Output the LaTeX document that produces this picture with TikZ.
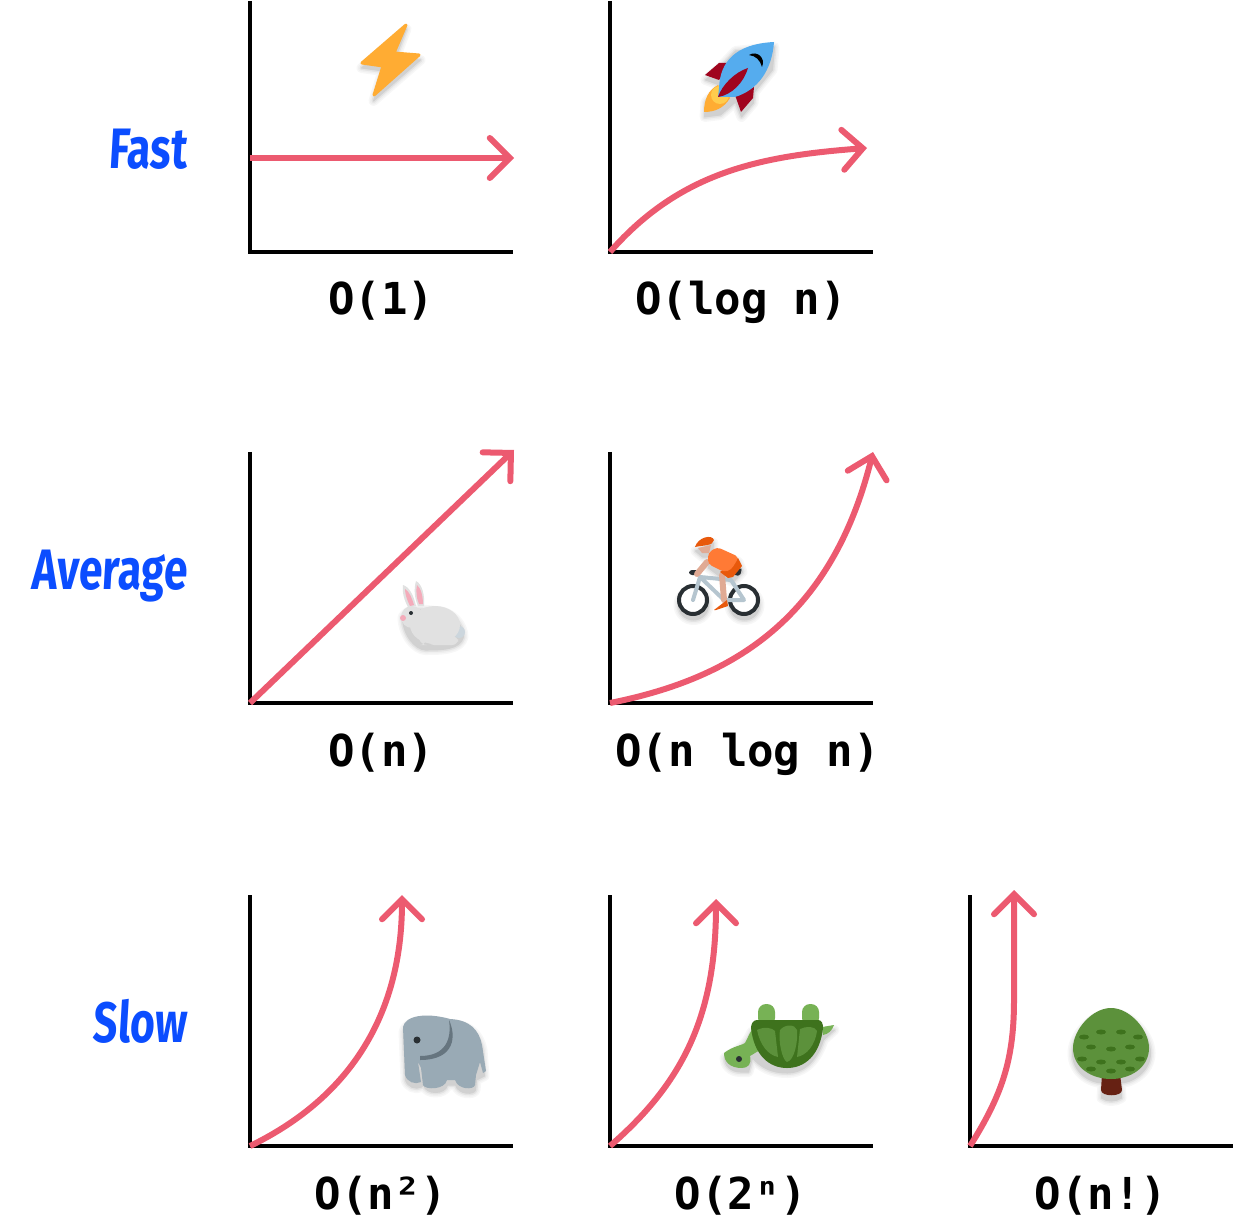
\documentclass[tikz,border=0pt]{standalone}
\usepackage{fontspec}
\usetikzlibrary{arrows.meta,positioning}
\newfontfamily\codefont{DejaVu Sans Mono}
\newfontfamily\handfont[FakeStretch=0.75,FakeSlant=0.06]{Fira Sans}
\definecolor{curvered}{HTML}{EC5A70}
\definecolor{speedblue}{HTML}{0B4DFF}
\definecolor{emoorange}{HTML}{FFAC33}
\definecolor{emoblue}{HTML}{55ACEE}
\definecolor{emored}{HTML}{A0041E}
\definecolor{emoyellow}{HTML}{FFCC4D}
\definecolor{emodark}{HTML}{292F33}
\definecolor{emogrey}{HTML}{99AAB5}
\definecolor{emoearline}{HTML}{66757F}
\definecolor{emopale}{HTML}{CCD6DD}
\definecolor{emowhite}{HTML}{E1E1E1}
\definecolor{emopink}{HTML}{F4ABBA}
\definecolor{emolight}{HTML}{77B255}
\definecolor{emogreen}{HTML}{5C913B}
\definecolor{emodeep}{HTML}{3E721D}
\definecolor{emotrunk}{HTML}{662113}
\definecolor{emohelmet}{HTML}{E8590C}
\definecolor{emoshirt}{HTML}{FF7A35}
\definecolor{emoskin}{HTML}{E0AA94}
\definecolor{emoframe}{HTML}{B5C5CF}
\tikzset{
	axisline/.style={draw=black,line width=2pt},
	curveline/.style={draw=curvered,line width=3pt,
		-{Straight Barb[length=10pt,width=20pt,line cap=round]}},
	biglabel/.style={anchor=base,inner sep=0pt,font=\codefont\bfseries\fontsize{22}{26}\selectfont},
	speedlabel/.style={anchor=base east,inner sep=0pt,text=speedblue,font=\handfont\bfseries\fontsize{28.5}{32}\selectfont},
}
\newcommand{\graphaxes}[3]{
	\coordinate (#1o) at (#2,#3);
	\coordinate (#1t) at (#2,#3-251);
	\coordinate (#1r) at (#2+263,#3);
	\draw[axisline] (#1t) -- (#1o) -- (#1r);
}
\newcommand{\softshadow}[1]{
	\foreach \w/\c in {10/3,7/6,4/11,1/18} {
		\draw[black!\c,fill=black!\c,line width=\w*0.5pt,line join=round,shift={(0.5,5)}] #1;
	}
}
\begin{document}
\begin{tikzpicture}[x=0.5pt,y=-0.5pt]
	\useasboundingbox (0,0) rectangle (1234,1218);

	\graphaxes{const}{250}{252}
	\graphaxes{log}{610}{252}
	\graphaxes{lin}{250}{703}
	\graphaxes{nlog}{610}{703}
	\graphaxes{sq}{250}{1146}
	\graphaxes{exp}{610}{1146}
	\graphaxes{fact}{970}{1146}

	\node[biglabel] (constlabel) at (381,315) {O(1)};
	\node[biglabel] (loglabel) at (741,315) {O(log n)};
	\node[biglabel] (linlabel) at (381,766) {O(n)};
	\node[biglabel] (nloglabel) at (747.5,766) {O(n log n)};
	\node[biglabel] (sqlabel) at (381,1209) {O(n²)};
	\node[biglabel] (explabel) at (741,1209) {O(2ⁿ)};
	\node[biglabel] (factlabel) at (1101,1209) {O(n!)};

	\node[speedlabel] (fast) at (187,169) {Fast};
	\node[speedlabel] (average) at (187,589) {Average};
	\node[speedlabel] (slow) at (187,1042) {Slow};

	\coordinate (consttip) at (250,158);
	\coordinate (constend) at (514,158);
	\coordinate (logtip) at (867,148);
	\coordinate (lintip) at (514,450);
	\coordinate (nlogtip) at (873,452);
	\coordinate (sqtip) at (402,895);
	\coordinate (exptip) at (716,899);
	\coordinate (facttip) at (1014,890);
	\draw[curveline] (consttip) -- (constend);
	\draw[curveline] (logo) .. controls (680,172) and (760,156) .. (logtip);
	\draw[curveline] (lino) -- (lintip);
	\draw[curveline] (nlogo) .. controls (725,680) and (830,625) .. (nlogtip);
	\draw[curveline] (sqo) .. controls (345,1100) and (402,1020) .. (sqtip);
	\draw[curveline] (expo) .. controls (680,1085) and (716,1020) .. (exptip);
	\draw[curveline] (facto) .. controls (1002,1095) and (1014,1060) .. (1014,1000) -- (facttip);

	% lightning
	\softshadow{(406,24) -- (361,63) -- (382,66) -- (373,96) -- (420,55) -- (395,53) -- cycle}
	\fill[emoorange,draw=emoorange,line width=1.5pt,line join=round] (406,25) -- (362,63) -- (383,66) -- (374,95) -- (419,55) -- (394,53) -- cycle;

	% rocket
	\softshadow{(705,75) -- (719,63) -- (735,46) -- (774,42) -- (772,65) -- (754,87) -- (753,98) -- (741,112) -- (735,97) -- (720,110) -- (704,112) -- (705,97) -- (718,85) -- (719,80) -- cycle}
	\fill[emored] (705,75) -- (719,63) -- (731,63) -- (719,80) -- cycle;
	\fill[emored] (754,87) -- (753,98) -- (741,112) -- (735,95) -- cycle;
	\fill[emoorange] (704,112) .. controls (704,100) and (708,90) .. (718,85) -- (730,98) .. controls (724,108) and (715,112) .. cycle;
	\fill[emoyellow] (720,95) circle[radius=9];
	\fill[emoblue] (774,42) .. controls (735,44) and (720,62) .. (719,88) -- (718,97) -- (735,97) .. controls (758,90) and (772,70) .. cycle;
	\fill[emored] (748,68) .. controls (735,72) and (722,85) .. (718,97) .. controls (732,95) and (744,82) .. cycle;
	\fill[black] (749,55) .. controls (757,50) and (766,58) .. (762,67) .. controls (760,60) and (756,56) .. cycle;

	% rabbit
	\softshadow{(402,612) .. controls (408,603) and (420,604) .. (435,606) .. controls (452,606) and (463,620) .. (463,632) .. controls (460,645) and (440,645) .. (425,645) .. controls (415,645) and (402,630) .. cycle}
	\fill[emowhite] (403,585) .. controls (410,587) and (414,597) .. (416,606) -- (408,607) .. controls (404,600) and (402,592) .. cycle;
	\fill[emowhite] (416,581) .. controls (422,584) and (425,595) .. (424,606) -- (418,606) .. controls (414,597) and (414,588) .. cycle;
	\fill[emopink] (405,589) .. controls (409,591) and (412,598) .. (414,605) -- (410,606) .. controls (407,600) and (405,594) .. cycle;
	\fill[emopink] (417,585) .. controls (421,588) and (423,597) .. (423,604) -- (419,604) .. controls (416,597) and (416,590) .. cycle;
	\fill[emopale] (459,632) circle[radius=6];
	\fill[emowhite] (412,617) circle[radius=11];
	\fill[emowhite] (435,625) ellipse (25 and 19);
	\fill[emowhite,rounded corners=3pt] (416,628) -- (426,628) -- (426,645) -- (421,645) -- cycle;
	\fill[emowhite,rounded corners=3pt] (428,636) -- (458,636) -- (458,645) -- (428,645) -- cycle;
	\fill[emopink] (403,618) circle[radius=3];
	\fill[emodark] (411,613) circle[radius=2];

	% cyclist
	\softshadow{(693,600) circle[radius=15]}
	\softshadow{(744,600) circle[radius=15]}
	\softshadow{(708,553) -- (717,548) -- (738,557) -- (742,567) -- (733,577) -- (720,572) -- (708,563) -- cycle}
	\softshadow{(695,546) -- (713,538) -- (712,552) -- (702,552) -- cycle}
	\fill[white] (693,600) circle[radius=14];
	\fill[white] (744,600) circle[radius=14];
	\draw[emodark,line width=2pt] (693,600) circle[radius=14];
	\draw[emodark,line width=2pt] (744,600) circle[radius=14];
	\draw[emoframe,line width=2pt,line join=round,line cap=round] (693,600) -- (700,577) -- (731,580) -- (744,600) -- (724,600) -- (700,577);
	\fill[emodark,rounded corners=1.5pt] (689,570) -- (701,570) -- (701,575) -- (689,575) -- cycle;
	\fill[emodark,rounded corners=1pt] (735,570) -- (742,568) -- (740,576) -- (734,575) -- cycle;
	\draw[emoskin,line width=3pt,line cap=round] (722,575) -- (724,600);
	\draw[emoskin,line width=3pt,line cap=round] (707,562) -- (697,574);
	\fill[emohelmet] (714,610) -- (727,600) -- (728,606) -- (716,610) -- cycle;
	\fill[emohelmet] (720,572) -- (738,558) -- (742,566) -- (733,577) -- (728,578) -- cycle;
	\fill[emoshirt,rounded corners=2pt] (708,564) -- (708,553) -- (717,547) -- (739,557) -- (731,570) -- (724,572) -- cycle;
	\fill[emoskin] (698,548) -- (711,545) -- (709,553) -- (702,553) -- cycle;
	\fill[emohelmet] (695,547) .. controls (698,537) and (712,534) .. (714,540) .. controls (713,546) and (704,545) .. cycle;

	% elephant
	\softshadow{(403,1027) .. controls (405,1016) and (425,1012) .. (450,1019) .. controls (470,1020) and (479,1030) .. (482,1045) -- (484,1071) -- (476,1075) -- (475,1085) .. controls (474,1090) and (458,1090) .. (455,1080) -- (447,1080) .. controls (445,1090) and (425,1090) .. (423,1080) -- (421,1082) .. controls (415,1085) and (407,1082) .. (405,1075) -- cycle}
	\fill[emogrey] (403,1027) .. controls (405,1016) and (425,1012) .. (450,1019) .. controls (470,1020) and (479,1030) .. (482,1045) -- (486,1071) -- (483,1073) -- (480,1062) -- (476,1075) -- (475,1085) .. controls (474,1090) and (458,1090) .. (455,1080) -- (447,1080) .. controls (445,1090) and (425,1090) .. (423,1085) -- (421,1068) -- (418,1062) -- (421,1082) .. controls (415,1085) and (407,1082) .. (405,1075) -- cycle;
	\fill[emoearline] (449,1020) .. controls (456,1035) and (456,1060) .. (420,1060) -- (420,1056) .. controls (445,1056) and (452,1040) .. cycle;
	\fill[emodark] (417,1040) circle[radius=3.5];

	% turtle
	\softshadow{(724,1053) .. controls (733,1046) and (743,1045) .. (751,1027) -- (823,1027) -- (834,1025) -- (823,1035) .. controls (815,1060) and (800,1068) .. (787,1068) .. controls (770,1068) and (760,1062) .. (752,1053) -- (748,1067) -- (740,1067) .. controls (730,1067) and (724,1060) .. cycle}
	\fill[emolight,rounded corners=4pt] (758,1026) -- (758,1004) -- (775,1004) -- (775,1026) -- cycle;
	\fill[emolight,rounded corners=4pt] (802,1026) -- (802,1004) -- (819,1004) -- (819,1026) -- cycle;
	\fill[emolight] (822,1027) -- (834,1025) .. controls (832,1031) and (828,1034) .. (823,1035) -- cycle;
	\fill[emolight] (724,1053) .. controls (733,1046) and (743,1045) .. (745,1043) .. controls (748,1038) and (750,1030) .. (755,1027) -- (760,1050) -- (750,1056) .. controls (752,1064) and (748,1068) .. (742,1068) .. controls (730,1068) and (724,1062) .. cycle;
	\fill[emodeep] (757,1020) -- (818,1020) .. controls (822,1020) and (823,1024) .. (823,1028) .. controls (820,1055) and (805,1068) .. (787,1068) .. controls (769,1068) and (754,1055) .. (751,1028) .. controls (751,1024) and (753,1020) .. cycle;
	\fill[emogreen] (757,1030) .. controls (765,1026) and (772,1028) .. (775,1031) -- (778,1057) .. controls (768,1055) and (760,1045) .. cycle;
	\fill[emogreen] (780,1030) .. controls (785,1024) and (795,1024) .. (797,1030) .. controls (798,1040) and (795,1060) .. (787,1062) .. controls (782,1060) and (778,1040) .. cycle;
	\fill[emogreen] (800,1029) .. controls (806,1026) and (815,1026) .. (817,1031) .. controls (815,1045) and (807,1055) .. (797,1057) -- cycle;
	\fill[emodark] (739,1059) circle[radius=3];

	% tree
	\softshadow{(1111,1008) .. controls (1130,1008) and (1150,1030) .. (1150,1048) .. controls (1150,1068) and (1130,1078) .. (1120,1078) -- (1121,1093) .. controls (1115,1097) and (1106,1097) .. (1101,1093) -- (1102,1078) .. controls (1090,1078) and (1072,1068) .. (1072,1048) .. controls (1072,1030) and (1092,1008) .. cycle}
	\fill[emotrunk] (1102,1074) -- (1120,1074) -- (1122,1090) .. controls (1122,1097) and (1101,1097) .. (1101,1090) -- cycle;
	\fill[emogreen] (1111,1008) .. controls (1130,1008) and (1149,1030) .. (1149,1048) .. controls (1149,1068) and (1130,1079) .. (1111,1079) .. controls (1092,1079) and (1073,1068) .. (1073,1048) .. controls (1073,1030) and (1092,1008) .. cycle;
	\foreach \sx/\sy in {1084/1037,1101/1032,1121/1032,1138/1037,1091/1047,1111/1049,1130/1047,1082/1059,1101/1062,1121/1062,1140/1059,1091/1069,1111/1071,1130/1069} {
		\fill[emodeep] (\sx,\sy) ellipse (5 and 2.5);
	}
\end{tikzpicture}
\end{document}
